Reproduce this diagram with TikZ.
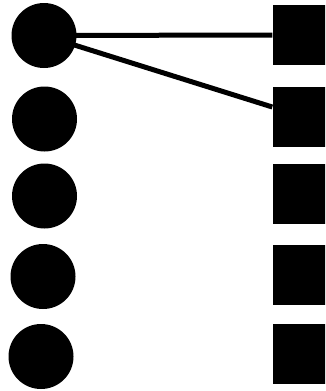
\documentclass[tikz,border=0pt]{standalone}
\usetikzlibrary{backgrounds}
\tikzset{
  dot/.style={circle, fill=black, draw=none, minimum size=65pt, inner sep=0pt},
  blockbox/.style={rectangle, fill=black, draw=none, minimum width=60pt, minimum height=60pt, inner sep=0pt},
  link/.style={line width=5pt, black}
}
\begin{document}
\begin{tikzpicture}
\useasboundingbox (0pt,0pt) rectangle (325pt,-391pt);
\clip (0pt,0pt) rectangle (325pt,-391pt);
\node[dot] (c1) at (44pt,-35.5pt) {};
\node[dot] (c2) at (44.5pt,-119pt) {};
\node[dot] (c3) at (44.5pt,-196pt) {};
\node[dot] (c4) at (43pt,-276.5pt) {};
\node[dot] (c5) at (41pt,-356.5pt) {};
\node[blockbox] (s1) at (302.5pt,-35pt) {};
\node[blockbox] (s2) at (302.5pt,-116.5pt) {};
\node[blockbox] (s3) at (302.5pt,-193.5pt) {};
\node[blockbox] (s4) at (302.5pt,-274.5pt) {};
\node[blockbox] (s5) at (302.5pt,-353.5pt) {};
\begin{pgfonlayer}{background}
\draw[link] (c1.center) -- (s1.west);
\draw[link] (c1.center) -- ([yshift=9.5pt]s2.west);
\end{pgfonlayer}
\end{tikzpicture}
\end{document}
